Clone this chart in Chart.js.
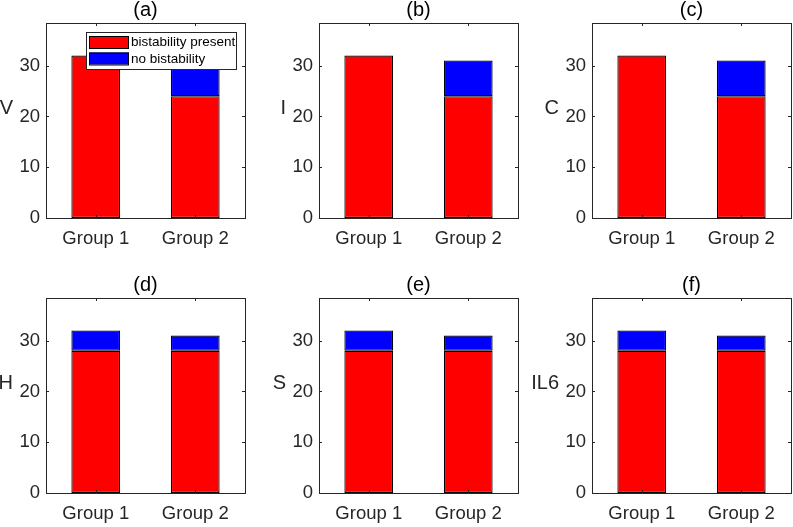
<!DOCTYPE html>
<html>
<head>
<meta charset="utf-8">
<script src="https://cdn.jsdelivr.net/npm/chart.js@4.4.1/dist/chart.umd.min.js"></script>
<style>
  body { margin: 0; background: #fff; }
  #wrap { position: relative; width: 793px; height: 527px; overflow: hidden; background: #fff; }
  #wrap canvas { position: absolute; }
</style>
</head>
<body>
<div id="wrap"></div>
<script>
// values
const groups = ["Group 1", "Group 2"];
const panelTitles = ["(a)", "(b)", "(c)", "(d)", "(e)", "(f)"];
const yLabels = ["V", "I", "C", "H", "S", "IL6"];
const presentValues = [[32, 24], [32, 24], [32, 24], [28, 28], [28, 28], [28, 28]];
const noBistValues = [[0, 7], [0, 7], [0, 7], [4, 3], [4, 3], [4, 3]];
const seriesNames = ["bistability present", "no bistability"];
const yTickValues = [0, 10, 20, 30];
const yMax = 38.4;

const FONT = "'Liberation Sans', Arial, sans-serif";
const AXIS = "#262626";

// frame, inward ticks, title, horizontal y label
const decorPlugin = {
  id: "decor",
  afterDraw(chart, args, opts) {
    const c = chart.ctx;
    const a = chart.chartArea;
    const xs = chart.scales.x, ys = chart.scales.y;
    c.save();
    c.strokeStyle = AXIS;
    c.lineWidth = 1;
    c.strokeRect(Math.round(a.left) + 0.5, Math.round(a.top) + 0.5,
      Math.round(a.right - a.left), Math.round(a.bottom - a.top));
    c.beginPath();
    ys.ticks.forEach(t => {
      const y = Math.round(ys.getPixelForValue(t.value)) + 0.5;
      c.moveTo(a.left, y); c.lineTo(a.left + 3, y);
      c.moveTo(a.right, y); c.lineTo(a.right - 3, y);
    });
    xs.ticks.forEach((t, i) => {
      const x = Math.round(xs.getPixelForTick(i)) + 0.5;
      c.moveTo(x, a.top); c.lineTo(x, a.top + 3);
      c.moveTo(x, a.bottom); c.lineTo(x, a.bottom - 3);
    });
    c.stroke();
    c.fillStyle = "#000";
    c.font = "20px " + FONT;
    c.textAlign = "center";
    c.textBaseline = "middle";
    c.fillText(opts.title, (a.left + a.right) / 2, 10.5);
    c.textAlign = "right";
    c.fillStyle = AXIS;
    c.fillText(opts.yLabel, opts.labelRight, (a.top + a.bottom) / 2 - 12);
    c.restore();
  }
};

// legend box drawn inside panel (a)
const boxLegendPlugin = {
  id: "boxLegend",
  afterDraw(chart, args, opts) {
    if (!opts.show) return;
    const c = chart.ctx;
    const x = opts.x, y = opts.y;
    c.save();
    c.fillStyle = "#fff";
    c.fillRect(x, y, 150, 37);
    c.strokeStyle = "#262626";
    c.lineWidth = 1;
    c.strokeRect(x + 0.5, y + 0.5, 150, 37);
    c.font = "13.5px " + FONT;
    c.textBaseline = "middle";
    chart.data.datasets.forEach((ds, i) => {
      const sy = y + 4 + i * 16.5;
      c.fillStyle = ds.backgroundColor;
      c.fillRect(x + 3, sy, 40, 12);
      c.strokeStyle = "#000";
      c.strokeRect(x + 3.5, sy + 0.5, 39, 12);
      c.fillStyle = "#000";
      c.fillText(ds.label, x + 45, sy + 6.5);
    });
    c.restore();
  }
};

const wrap = document.getElementById("wrap");
const CW = 297, CH = 252, SHIFT = 24;

for (let p = 0; p < 6; p++) {
  const col = p % 3, row = Math.floor(p / 3);
  const cv = document.createElement("canvas");
  cv.width = CW; cv.height = CH;
  cv.style.left = (col * 273 - SHIFT) + "px";
  cv.style.top = (row * 275.3) + "px";
  cv.style.width = CW + "px"; cv.style.height = CH + "px";
  wrap.appendChild(cv);

  new Chart(cv.getContext("2d"), {
    type: "bar",
    data: {
      labels: groups,
      datasets: [
        {
          label: seriesNames[0],
          data: presentValues[p],
          backgroundColor: "#ff0000",
          borderColor: "#000",
          borderWidth: 1.2,
          borderSkipped: false,
        },
        {
          label: seriesNames[1],
          data: noBistValues[p],
          backgroundColor: "#0000ff",
          borderColor: "#000",
          borderWidth: 1.2,
          borderSkipped: false,
        },
      ],
    },
    options: {
      responsive: false,
      animation: false,
      devicePixelRatio: 1,
      layout: { padding: { top: 23, right: 28, bottom: 0, left: 0 } },
      datasets: { bar: { categoryPercentage: 1, barPercentage: 0.49 } },
      scales: {
        x: {
          stacked: true,
          offset: true,
          grid: { display: false, drawTicks: false },
          border: { display: false },
          ticks: { color: AXIS, font: { family: FONT, size: 18.5 }, padding: 10, maxRotation: 0 },
          afterFit(s) { s.height = 34; },
        },
        y: {
          stacked: true,
          min: 0,
          max: yMax,
          grid: { display: false, drawTicks: false },
          border: { display: false },
          ticks: { color: AXIS, font: { family: FONT, size: 18.5 }, padding: 6 },
          afterBuildTicks(s) { s.ticks = yTickValues.map(v => ({ value: v })); },
          afterFit(s) { s.width = 46 + SHIFT; },
        },
      },
      plugins: {
        legend: { display: false },
        tooltip: { enabled: false },
        decor: { title: panelTitles[p], yLabel: yLabels[p], labelRight: SHIFT + 13 },
        boxLegend: { show: p === 0, x: 86 + SHIFT, y: 32 },
      },
    },
    plugins: [decorPlugin, boxLegendPlugin],
  });
}
</script>
</body>
</html>
